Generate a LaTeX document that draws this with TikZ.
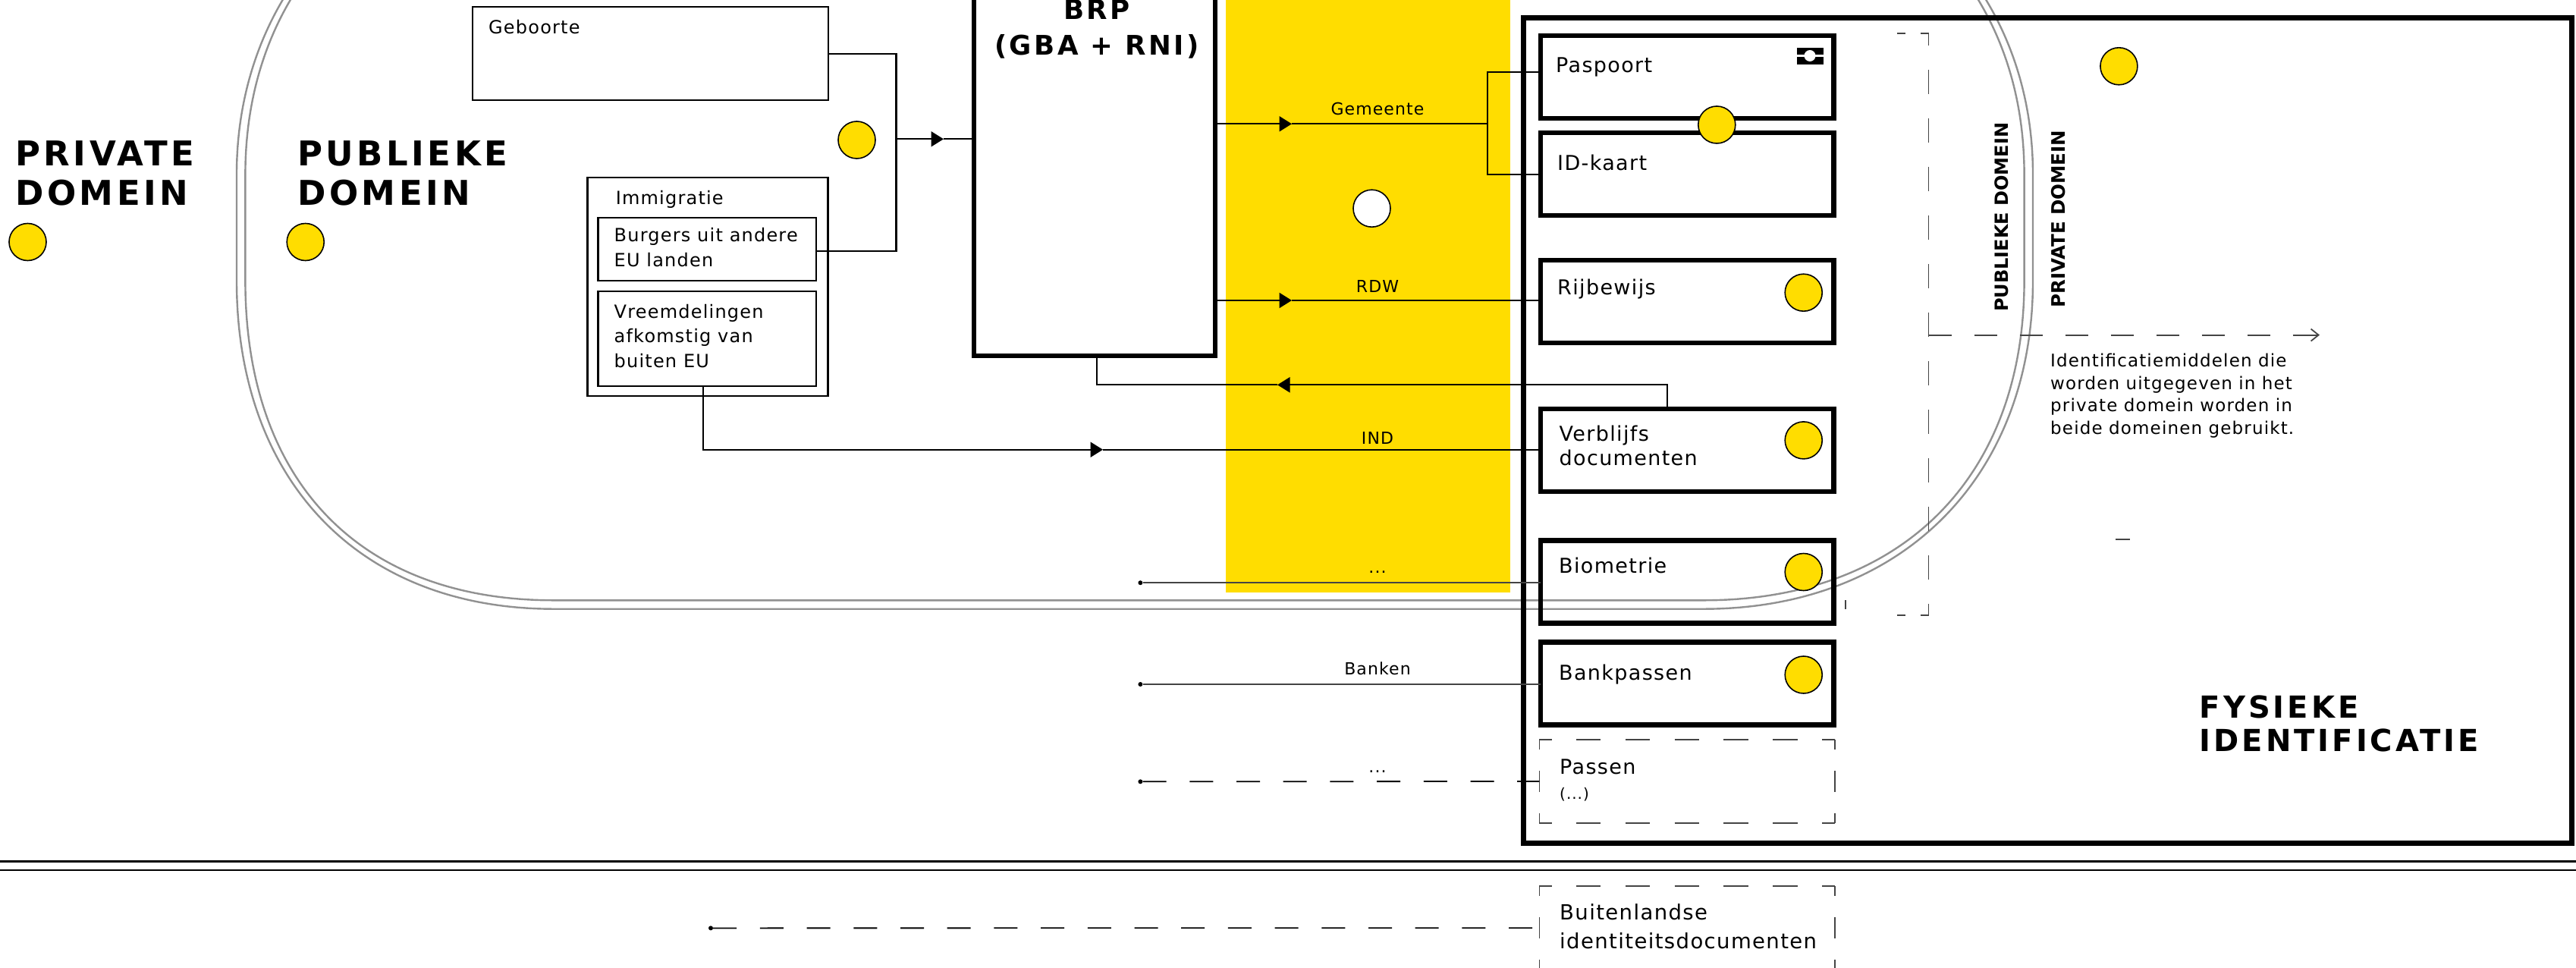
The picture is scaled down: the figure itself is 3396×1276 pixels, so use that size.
\documentclass[tikz,border=0pt]{standalone}
\usepackage{fontspec}
\setmainfont{DejaVu Sans}
\newfontfamily\bodyfont[LetterSpace=5]{DejaVu Sans}
\newfontfamily\headfont[LetterSpace=10]{DejaVu Sans}
\newfontfamily\sidefont{DejaVu Sans}
\usetikzlibrary{arrows.meta}
\definecolor{geel}{HTML}{FFDD00}
\definecolor{domein}{HTML}{919191}
\definecolor{streep}{HTML}{444444}
\tikzset{
  txtsmall/.style={inner sep=0,anchor=base,font=\bodyfont\fontsize{22}{30}\selectfont},
  txtmid/.style={inner sep=0,anchor=base west,align=left,font=\bodyfont\fontsize{24}{32.6}\selectfont},
  txtbig/.style={inner sep=0,anchor=base west,align=left,font=\bodyfont\fontsize{27}{32}\selectfont},
  txthead/.style={inner sep=0,anchor=base west,align=left,font=\headfont\bfseries\fontsize{45}{52}\selectfont},
  txtside/.style={inner sep=0,anchor=base west,rotate=90,font=\sidefont\bfseries\fontsize{24}{30}\selectfont},
  thinbox/.style={draw,line width=2.2pt,inner sep=0,outer sep=0},
  fatbox/.style={draw,line width=6.5pt,inner sep=0,outer sep=0,minimum width=386.4pt,minimum height=109pt},
  dashbox/.style={inner sep=0,outer sep=0,minimum width=389.5pt,minimum height=110pt},
  dashhor/.style={draw=streep,line width=1.8pt,dash pattern=on 32.4pt off 32.4pt,dash phase=16.2pt},
  dashver/.style={draw=streep,line width=1.8pt,dash pattern=on 13pt off 28pt on 28pt off 28pt on 13pt},
  stip/.style={circle,draw,line width=1.6pt,fill=geel,minimum size=49pt,inner sep=0},
  lijn/.style={line width=2.2pt},
  uitlijn/.style={line width=2.2pt,draw=streep},
  pijl/.style={line width=2.2pt,-{Triangle[length=16.5pt,width=20pt]}},
  eindstip/.style={circle,fill=black,minimum size=6pt,inner sep=0},
}
\newcommand{\streepkader}[1]{
\draw[dashhor] (#1.north west) -- (#1.north east);
\draw[dashhor] (#1.south west) -- (#1.south east);
\draw[dashver] (#1.north west) -- (#1.south west);
\draw[dashver] (#1.north east) -- (#1.south east);
}
\begin{document}
\begin{tikzpicture}[x=1pt,y=-1pt]
\useasboundingbox (0,0) rectangle (3396,1276);
\clip (0,0) rectangle (3396,1276);
\fill[geel] (1615.6,-10) rectangle (1991,781.2);
\foreach \o in {0,11.4}{
\draw[domein,line width=2.4pt] (730,802.7-\o) -- (2246,802.7-\o) .. controls (2506,802.7-\o) and (2680-\o,630) .. (2680-\o,370) -- (2680-\o,230) .. controls (2680-\o,-30) and (2480,-204+\o) .. (2246,-204+\o) -- (730,-204+\o) .. controls (510,-204+\o) and (312+\o,-30) .. (312+\o,230) -- (312+\o,370) .. controls (312+\o,630) and (470,802.7-\o) .. (730,802.7-\o) -- cycle;
}
\draw[line width=2.5pt] (-5,1135.7) -- (3400,1135.7);
\draw[line width=2.5pt] (-5,1147.1) -- (3400,1147.1);

\node[txthead] (privaat) at (20,270) {PRIVATE\\DOMEIN};
\node[txthead] (publiek) at (392,270) {PUBLIEKE\\DOMEIN};
\node[stip] (stipprivaat) at (36.5,319) {};
\node[stip] (stippubliek) at (402.7,319) {};

\node[thinbox,minimum width=468.6pt,minimum height=123pt] (geboorte) at (857.3,70.5) {};
\node[txtmid] (geboortetxt) at (644,45) {Geboorte};
\node[thinbox,minimum width=317.1pt,minimum height=288pt] (immigratie) at (933,378) {};
\node[txtmid] (immigratietxt) at (811.6,269.4) {Immigratie};
\node[thinbox,minimum width=287.5pt,minimum height=83pt] (burgers) at (932.2,328.5) {};
\node[txtmid] (burgerstxt) at (809.5,351) {Burgers uit andere\\EU landen};
\node[thinbox,minimum width=287.5pt,minimum height=124.9pt] (vreemd) at (932.2,446.2) {};
\node[txtmid] (vreemdtxt) at (809.5,484.5) {Vreemdelingen\\afkomstig van\\buiten EU};
\node[stip] (stipbron) at (1129.5,184.5) {};

\node[draw,line width=6pt,inner sep=0,outer sep=0,minimum width=318pt,minimum height=569pt] (brp) at (1443.3,184.5) {};
\node[inner sep=0,anchor=base,align=center,font=\headfont\bfseries\fontsize{35.6}{47}\selectfont] (brptxt) at (1446,72.6) {BRP\\(GBA + RNI)};
\node[stip,fill=white] (stipwit) at (1808.5,274.7) {};

\node[draw,line width=7pt,inner sep=0,outer sep=0,minimum width=1382pt,minimum height=1088pt] (fysiek) at (2699,567.75) {};
\node[fatbox] (paspoort) at (2224.2,101.6) {};
\node[txtbig] (paspoorttxt) at (2051,95.7) {Paspoort};
\node[fatbox] (idkaart) at (2224.2,229.7) {};
\node[txtbig] (idkaarttxt) at (2053,224.7) {ID-kaart};
\node[fatbox] (rijbewijs) at (2224.2,397.5) {};
\node[txtbig] (rijbewijstxt) at (2053,388.5) {Rijbewijs};
\node[fatbox] (verblijf) at (2224.2,593.5) {};
\node[txtbig] (verblijftxt) at (2055.5,613.5) {Verblijfs\\documenten};
\node[fatbox] (biometrie) at (2224.2,767) {};
\node[txtbig] (biometrietxt) at (2055,755.8) {Biometrie};
\node[fatbox] (bankpas) at (2224.2,901.2) {};
\node[txtbig] (bankpastxt) at (2055,896.6) {Bankpassen};
\node[dashbox] (passen) at (2224.2,1030) {};
\streepkader{passen}
\node[txtbig] (passentxt) at (2056,1020.5) {Passen};
\node[txtmid,font=\bodyfont\fontsize{20}{24}\selectfont] (passenmeer) at (2056,1053.8) {(...)};
\node[dashbox] (buitenland) at (2224.2,1223.2) {};
\streepkader{buitenland}
\node[txtbig,font=\bodyfont\fontsize{27.5}{38}\selectfont] (buitenlandtxt) at (2056,1250.5) {Buitenlandse\\identiteitsdocumenten};
\node[stip] (stippas) at (2263.3,164.5) {};
\node[stip] (stiprij) at (2377.7,385.7) {};
\node[stip] (stipver) at (2377.7,580.4) {};
\node[stip] (stipbio) at (2377.7,754) {};
\node[stip] (stipbank) at (2377.7,889.5) {};
\node[stip] (stipfys) at (2793.4,87.3) {};
\fill (2368.6,63) rectangle (2403.7,85);
\draw[white,line width=3pt] (2368.6,74) -- (2403.7,74);
\fill[white] (2386,73.5) circle (7.5);

\coordinate (gebuit) at (geboorte.east |- 0,71.4);
\coordinate (samen) at (1181.4,183.3);
\coordinate (burguit) at (burgers.east |- 0,331);
\draw[lijn] (gebuit) -| (samen) |- (burguit);
\coordinate (samentip) at (1244,183.3);
\coordinate (brpin) at (brp.west |- samen);
\draw[pijl] (samen) -- (samentip);
\draw[lijn] (samentip) -- (brpin);

\coordinate (gemuit) at (brp.east |- 0,163.3);
\coordinate (gemtip) at (1703,163.3);
\coordinate (gemsplit) at (1960.7,163.3);
\draw[pijl] (gemuit) -- (gemtip);
\draw[lijn] (gemtip) -- (gemsplit);
\draw[lijn] (paspoort.west |- 0,94.7) -| (gemsplit) |- (idkaart.west);
\node[txtsmall] (gemeente) at (1816,151.8) {Gemeente};

\coordinate (rdwuit) at (brp.east |- 0,396);
\coordinate (rdwtip) at (1703,396);
\draw[pijl] (rdwuit) -- (rdwtip);
\draw[lijn] (rdwtip) -- (rijbewijs.west |- rdwtip);
\node[txtsmall] (rdw) at (1816,385.7) {RDW};

\coordinate (terughoek) at (2198,507.3);
\coordinate (teruguit) at (1446,507.3);
\coordinate (terugtip) at (1684,507.3);
\draw[pijl] (verblijf.north -| terughoek) -- (terughoek) -- (terugtip);
\draw[lijn] (terugtip) -- (teruguit) -- (brp.south -| teruguit);

\coordinate (indhoek) at (926.7,592.7);
\coordinate (indtip) at (1454,592.7);
\draw[pijl] (vreemd.south -| indhoek) -- (indhoek) -- (indtip);
\draw[lijn] (indtip) -- (verblijf.west |- indtip);
\node[txtsmall] (ind) at (1816,585.7) {IND};

\node[eindstip] (biostip) at (1503.4,768.2) {};
\draw[uitlijn] (biostip) -- (biometrie.west |- biostip);
\node[txtsmall] (biopunt) at (1816,755.6) {...};
\node[eindstip] (bankstip) at (1503.4,902) {};
\draw[uitlijn] (bankstip) -- (bankpas.west |- bankstip);
\node[txtsmall] (banken) at (1816,889.5) {Banken};
\node[eindstip] (passtip) at (1503.4,1030.3) {};
\draw[line width=1.8pt,dash pattern=on 31pt off 30.7pt] (passtip) -- (passen.west);
\node[txtsmall] (paspunt) at (1816,1018) {...};
\node[eindstip] (buitenstip) at (937,1223.4) {};
\draw[line width=1.8pt,dash pattern=on 31pt off 30.7pt] (buitenstip) -- (buitenland.west);

\node[txtside] (zijpubliek) at (2647.7,411) {PUBLIEKE DOMEIN};
\node[txtside,font=\sidefont\bfseries\fontsize{24.5}{30}\selectfont] (zijprivaat) at (2722.5,406) {PRIVATE DOMEIN};
\node[txtmid,font=\bodyfont\fontsize{23}{29.7}\selectfont] (uitleg) at (2703,572.6) {Identificatiemiddelen die\\worden uitgegeven in het\\private domein worden in\\beide domeinen gebruikt.};
\node[txthead,font=\headfont\bfseries\fontsize{40}{44.6}\selectfont] (fysiektxt) at (2899.5,990.9) {FYSIEKE\\IDENTIFICATIE};

\coordinate (kaderboven) at (2542.5,44);
\coordinate (kaderonder) at (2542.5,810.8);
\coordinate (kaderpijl) at (2542.5,441.6);
\coordinate (pijleind) at (3058,441.6);
\draw[uitlijn,line width=1.8pt,dash pattern=on 32pt off 32pt,dash phase=16pt] (kaderboven) -- (kaderonder);
\draw[uitlijn,line width=1.8pt,dash pattern=on 30pt off 30pt] (kaderpijl) -- (pijleind);
\draw[uitlijn,line width=1.8pt,-{Straight Barb[length=10pt,width=16pt]}] (3044,441.6) -- (pijleind);
\draw[uitlijn,line width=1.8pt] (2501,44) -- (2512,44);
\draw[uitlijn,line width=1.8pt] (2532,44) -- (kaderboven);
\draw[uitlijn,line width=1.8pt] (2501,810.8) -- (2512,810.8);
\draw[uitlijn,line width=1.8pt] (2532,810.8) -- (kaderonder);
\draw[uitlijn,line width=1.8pt] (2433,791) -- (2433,803);
\draw[uitlijn,line width=1.8pt] (2789,711) -- (2808,711);
\end{tikzpicture}
\end{document}
